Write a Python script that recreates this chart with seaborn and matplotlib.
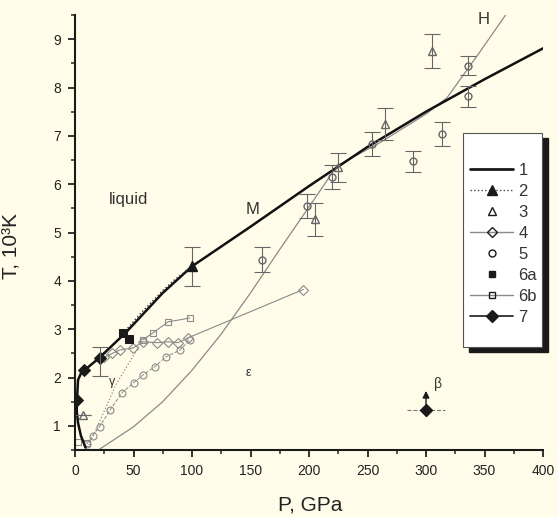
import matplotlib
matplotlib.use('Agg')
import matplotlib.pyplot as plt
from matplotlib.lines import Line2D
from matplotlib.patches import Rectangle
from matplotlib.ticker import MultipleLocator
import seaborn as sns

sns.set_theme(style='ticks')
plt.rcParams['font.family'] = ['Liberation Sans', 'DejaVu Sans']

# --- data ---
# 1: melting curve + low pressure boundary
p1 = [9, 5, 2.6, 1.5, 1.7, 2.6, 5, 8.5, 19, 30, 43, 50, 75, 100, 150, 200, 250, 300, 350, 400]
t1 = [0.55, 0.8, 1.06, 1.3, 1.54, 1.95, 2.08, 2.16, 2.37, 2.62, 2.92, 3.1, 3.75, 4.3, 5.12, 5.96, 6.77, 7.5, 8.17, 8.81]
# 2: dotted line with filled triangle
p2 = [45, 55, 65, 75, 85, 100]
t2 = [3.02, 3.3, 3.55, 3.8, 4.02, 4.3]
# 3: open triangles with error bars
p3 = [7, 205, 225, 265, 305]
t3 = [1.22, 5.27, 6.35, 7.24, 8.75]
e3 = [0, 0.35, 0.3, 0.33, 0.35]
# 4: open diamonds with line
p4 = [25, 32, 38.5, 49.6, 58, 70, 79.5, 88, 96.6, 195]
t4 = [2.42, 2.5, 2.57, 2.61, 2.74, 2.72, 2.74, 2.72, 2.82, 3.82]
# 5: open circles with error bars
p5 = [160, 198, 220, 254, 289, 314, 336, 336]
t5 = [4.44, 5.54, 6.15, 6.83, 6.47, 7.03, 7.82, 8.45]
e5 = [0.25, 0.25, 0.25, 0.25, 0.22, 0.25, 0.22, 0.2]
# chain of open circles at low pressure
p5b = [10, 15, 21, 30, 40, 50, 58, 68, 78, 90, 98]
t5b = [0.62, 0.8, 0.98, 1.33, 1.68, 1.89, 2.05, 2.22, 2.43, 2.57, 2.78]
# 6a: filled squares
p6a = [41, 46]
t6a = [2.92, 2.8]
# 6b: open squares with line
p6b = [58, 67, 79.5, 98]
t6b = [2.78, 2.93, 3.15, 3.23]
p6b_low = [2.6, 10]
t6b_low = [0.66, 0.65]
# gamma-epsilon boundary (dotted)
p_ge = [12, 35, 58]
t_ge = [0.6, 1.85, 2.78]
# 7: filled diamonds
p7 = [1.7, 8, 21]
t7 = [1.54, 2.15, 2.4]
p7b = [300]
t7b = [1.33]
# H curve
p_h = [20, 50, 75, 100, 125, 150, 175, 200, 224, 260, 300, 318, 345, 368]
t_h = [0.5, 0.98, 1.5, 2.15, 2.9, 3.75, 4.65, 5.53, 6.38, 6.85, 7.45, 7.79, 8.7, 9.5]

bg = '#fffdea'
gray = '#8a8a8a'

fig = plt.figure(figsize=(5.58, 5.17), dpi=100, facecolor=bg)
ax = fig.add_axes([75 / 558, 1 - 450 / 517, 468 / 558, 435 / 517])
ax.set_facecolor(bg)


def line(x, y, **kw):
    sns.lineplot(x=x, y=y, sort=False, estimator=None, ax=ax, **kw)


# curves
line(p_h, t_h, color=gray, lw=0.9)
line(p_ge, t_ge, color=gray, lw=0.9, linestyle=':')
line(p5b, t5b, color=gray, lw=0.7, linestyle='--', marker='o', markersize=5,
     markerfacecolor='none', markeredgecolor=gray, markeredgewidth=0.8)
line(p4, t4, color=gray, lw=0.8, marker='D', markersize=5,
     markerfacecolor='none', markeredgecolor=gray, markeredgewidth=0.8)
line(p6b, t6b, color=gray, lw=0.8, marker='s', markersize=5,
     markerfacecolor='none', markeredgecolor=gray, markeredgewidth=0.8)
line(p6b_low, t6b_low, color=gray, linestyle='none', marker='s', markersize=5,
     markerfacecolor='none', markeredgecolor=gray, markeredgewidth=0.8)
line(p1, t1, color='#111111', lw=1.8)
line(p2, t2, color='#333333', lw=1, linestyle=':')
line(p7, t7, color='k', linestyle='none', marker='D', markersize=6,
     markerfacecolor='k', markeredgecolor='k')
line(p6a, t6a, color='k', linestyle='none', marker='s', markersize=6,
     markerfacecolor='k', markeredgecolor='k')

# error bar points
ebkw = dict(ecolor='#666666', elinewidth=0.8, capsize=6, capthick=0.8)
ax.errorbar(p3, t3, yerr=e3, fmt='^', ms=6, mfc='none', mec='#666666', **ebkw)
ax.errorbar(p5, t5, yerr=e5, fmt='o', ms=5, mfc='none', mec='#666666', **ebkw)
ax.errorbar([p2[-1]], [t2[-1]], yerr=[0.4], fmt='^', ms=7, color='k', **ebkw)
ax.errorbar([21], [2.33], yerr=[0.3], fmt='none', **ebkw)
eb = ax.errorbar(p7b, t7b, xerr=[16], fmt='D', ms=6, color='k', ecolor='#777777',
                 elinewidth=0.8)
eb[2][0].set_linestyle('--')
ax.annotate('', xy=(300, 1.78), xytext=(300, 1.36),
            arrowprops=dict(arrowstyle='-|>', color='k', lw=1, mutation_scale=10))

# labels in plot
ax.text(46, 5.68, 'liquid', fontsize=12, color='#333333', ha='center', va='center')
ax.text(152, 5.47, 'M', fontsize=12, color='#333333', ha='center', va='center')
ax.text(349, 9.41, 'H', fontsize=12, color='#333333', ha='center', va='center')
ax.text(148, 2.1, 'ε', fontsize=9, color='#333333', ha='center', va='center')
ax.text(31.6, 1.9, 'γ', fontsize=9, color='#333333', ha='center', va='center')
ax.text(310, 1.87, 'β', fontsize=10, color='#333333', ha='center', va='center')

# axes
ax.set_xlim(0, 400)
ax.set_ylim(0.5, 9.5)
ax.xaxis.set_major_locator(MultipleLocator(50))
ax.xaxis.set_minor_locator(MultipleLocator(25))
ax.yaxis.set_major_locator(MultipleLocator(1))
ax.yaxis.set_minor_locator(MultipleLocator(0.5))
ax.tick_params(which='major', length=5, width=1.3, labelsize=10, colors='#222222', pad=5)
ax.tick_params(which='minor', length=3, width=1.1)
for s in ['top', 'right']:
    ax.spines[s].set_visible(False)
for s in ['left', 'bottom']:
    ax.spines[s].set_linewidth(1.5)
    ax.spines[s].set_color('k')
ax.set_xlabel('P, GPa', fontsize=15, color='#222222')
ax.set_ylabel('T, 10³K', fontsize=15, color='#222222')
ax.xaxis.set_label_coords(0.502, -0.105)
ax.yaxis.set_label_coords(-0.115, 0.47)

# legend box with shadow drawn by hand
ax.add_patch(Rectangle((0.842, 0.225), 0.169, 0.492, transform=ax.transAxes,
                       facecolor='k', edgecolor='k', clip_on=False, zorder=6))
ax.add_patch(Rectangle((0.829, 0.237), 0.169, 0.492, transform=ax.transAxes,
                       facecolor='white', edgecolor='#555555', lw=0.8,
                       clip_on=False, zorder=6.5))

handles = [
    Line2D([], [], color='k', lw=2),
    Line2D([], [], color='#444444', lw=1, ls=':', marker='^', ms=7, mfc='k', mec='k'),
    Line2D([], [], ls='none', marker='^', ms=6, mfc='none', mec='k'),
    Line2D([], [], color=gray, lw=1, marker='D', ms=5, mfc='none', mec='k'),
    Line2D([], [], ls='none', marker='o', ms=5, mfc='none', mec='k'),
    Line2D([], [], ls='none', marker='s', ms=5, mfc='k', mec='k'),
    Line2D([], [], color=gray, lw=1, marker='s', ms=5, mfc='none', mec='k'),
    Line2D([], [], color='k', lw=1.2, marker='D', ms=6, mfc='k', mec='k'),
]
labels = ['1', '2', '3', '4', '5', '6a', '6b', '7']
leg = ax.legend(handles, labels, loc='upper left', bbox_to_anchor=(0.844, 0.66),
                frameon=False, fontsize=12, handlelength=2.6, labelspacing=0.36,
                borderpad=0, handletextpad=0.3, borderaxespad=0)
leg.set_zorder(7)
for t in leg.get_texts():
    t.set_color('#333333')

fig.savefig('out.png', dpi=100, facecolor=bg)
